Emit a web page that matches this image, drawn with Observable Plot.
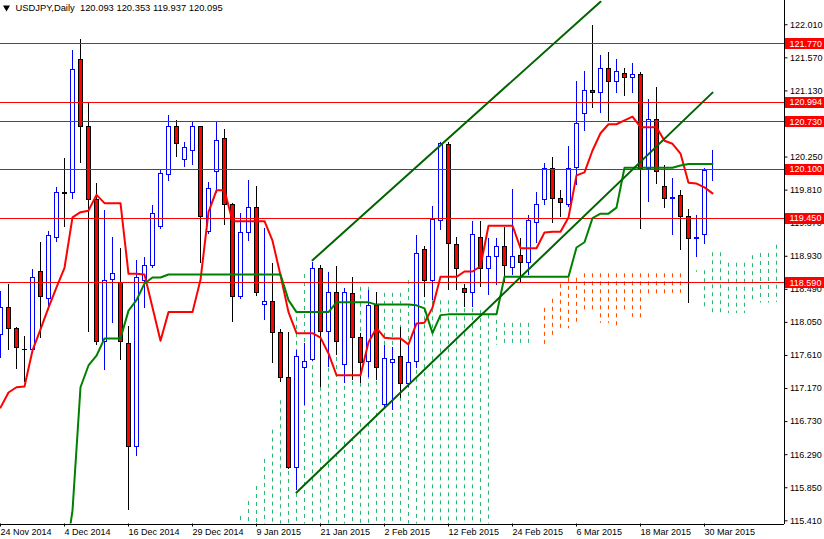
<!DOCTYPE html>
<html><head><meta charset="utf-8">
<script src="https://cdn.jsdelivr.net/npm/d3@7"></script>
<script src="https://cdn.jsdelivr.net/npm/@observablehq/plot@0.6"></script>
<style>html,body{margin:0;padding:0;background:#fff;overflow:hidden}</style>
</head><body><div id="chart"></div>
<script>
const symbolName = "USDJPY,Daily";
const dateLabels = ["24 Nov 2014","4 Dec 2014","16 Dec 2014","29 Dec 2014","9 Jan 2015","21 Jan 2015","2 Feb 2015","12 Feb 2015","24 Feb 2015","6 Mar 2015","18 Mar 2015","30 Mar 2015"];
const open = [117.89,118.26,117.97,117.70,117.69,118.73,118.38,119.19,119.78,119.78,
121.56,120.66,119.69,117.80,118.63,118.59,117.78,116.40,118.62,118.82,
119.33,120.03,120.66,120.23,120.34,120.66,119.26,120.06,120.50,119.63,
118.40,119.25,119.59,118.29,118.34,117.92,117.32,116.13,117.46,117.56,
118.77,117.94,118.46,117.49,118.44,117.86,117.53,118.28,116.97,117.52,
117.60,117.25,117.53,119.02,118.62,119.41,120.42,119.09,118.51,118.45,
119.19,118.78,118.93,119.06,118.79,118.95,118.85,119.39,119.69,120.11,
119.71,119.62,120.12,120.84,121.14,121.11,121.43,121.26,121.37,121.31,
121.35,120.11,120.75,119.87,119.70,119.74,119.46,119.17,119.22,120.093];
const high = [118.47,118.57,117.99,117.88,118.77,119.13,119.27,119.86,120.24,121.68,
121.83,120.99,119.91,119.55,119.19,119.05,118.01,118.89,118.93,119.62,
120.08,120.82,120.75,120.46,120.72,120.67,119.92,120.72,120.63,119.65,
119.51,119.95,119.87,119.31,118.85,117.97,117.93,117.69,117.78,118.86,
118.82,118.73,118.81,118.51,118.66,117.92,118.49,118.46,117.76,117.73,
117.99,117.78,119.22,119.07,119.61,120.46,120.46,119.19,118.57,119.41,
119.41,119.18,119.18,119.33,119.83,119.18,119.49,119.79,120.18,120.26,
119.82,120.40,121.27,121.40,122.01,121.61,121.65,121.56,121.44,121.51,
121.39,121.03,121.19,120.15,119.98,119.82,119.57,119.49,120.11,120.353];
const low = [117.58,117.69,117.44,117.26,117.66,117.85,118.22,119.13,119.33,119.70,
120.18,117.93,117.76,117.42,118.05,117.56,115.56,116.28,118.25,118.78,
119.30,119.94,120.26,120.12,120.15,118.85,119.23,119.78,119.35,118.06,
118.37,119.14,118.41,118.09,117.52,117.26,116.11,115.83,116.96,117.54,
117.20,117.46,117.62,117.25,117.29,117.25,117.33,117.29,116.93,116.89,
117.05,117.20,117.45,118.40,118.36,119.29,118.49,118.49,118.26,118.26,
118.53,118.42,118.55,118.58,118.69,118.58,118.69,119.11,119.62,119.38,
119.46,119.59,119.88,120.60,120.91,120.84,120.72,121.11,121.07,121.11,
119.30,119.66,119.90,119.58,119.22,119.02,118.32,118.93,119.10,119.937];
const close = [118.26,117.97,117.72,117.69,118.66,118.40,119.21,119.78,119.77,121.42,
120.66,119.69,117.80,118.62,118.71,117.80,116.40,118.65,118.82,119.50,
120.04,120.66,120.44,120.38,120.66,119.46,119.84,120.48,119.63,118.40,
119.25,119.59,118.46,118.33,117.92,117.32,116.13,117.60,117.53,118.77,
117.94,118.46,117.80,118.45,117.86,117.52,118.28,117.45,117.57,117.56,
117.25,117.52,118.97,118.62,119.42,120.44,119.10,118.77,118.46,119.23,
118.78,118.93,119.06,118.81,118.94,118.85,119.41,119.63,120.11,119.71,
119.65,120.11,120.70,121.14,121.11,121.43,121.26,121.39,121.32,121.35,
120.11,120.75,120.06,119.71,119.72,119.46,119.17,119.19,120.08,120.095];
const tenkan = [116.93,117.13,117.20,117.21,117.69,117.97,118.26,118.53,118.79,119.46,
119.53,119.55,119.76,119.65,119.65,119.65,118.71,118.71,118.70,118.26,
117.82,118.20,118.20,118.20,118.20,118.63,119.53,119.82,119.82,119.41,
119.41,119.41,119.41,119.41,119.15,118.69,118.20,117.92,117.92,117.92,
117.86,117.65,117.36,117.36,117.36,117.36,117.80,117.99,117.86,117.85,
117.85,117.77,118.05,118.06,118.26,118.67,118.67,118.67,118.74,118.74,
118.81,119.35,119.35,119.35,119.35,119.05,119.05,119.05,119.26,119.27,
119.27,119.46,120.02,120.06,120.35,120.58,120.70,120.70,120.75,120.80,
120.66,120.66,120.66,120.48,120.44,120.31,119.92,119.91,119.86,119.78];
const kijun = [null,null,null,null,null,null,null,null,114.83,115.56,
117.20,117.49,117.62,117.85,117.85,117.85,118.22,118.36,118.58,118.66,
118.66,118.70,118.70,118.70,118.70,118.70,118.70,118.70,118.70,118.70,
118.70,118.70,118.70,118.70,118.70,118.70,118.36,118.20,118.20,118.20,
118.20,118.20,118.33,118.33,118.33,118.33,118.33,118.30,118.30,118.30,
118.30,118.30,118.29,118.25,117.92,118.16,118.17,118.17,118.17,118.17,
118.17,118.17,118.17,118.67,118.67,118.67,118.67,118.67,118.67,118.67,
118.67,118.67,119.06,119.13,119.45,119.51,119.51,119.59,120.12,120.12,
120.12,120.12,120.12,120.12,120.12,120.15,120.17,120.17,120.17,120.17];
// Ichimoku cloud (shifted forward), 98 bars; 115.0 = below the visible chart
const spanA = [null,null,null,null,null,null,null,null,null,null,
null,null,null,null,null,null,null,null,null,null,
null,null,null,null,null,null,null,null,null,null,
115.48,115.68,115.88,116.24,116.63,117.02,117.89,118.13,118.70,118.55,
118.69,118.73,118.66,118.49,118.66,118.53,118.53,118.45,118.45,118.45,
118.45,118.62,118.49,118.35,118.35,118.35,118.35,118.35,118.35,118.35,
118.22,118.16,118.09,118.05,118.05,118.05,118.05,null,117.76,117.89,
117.96,117.98,118.06,118.18,118.18,118.05,118.05,118.02,118.18,118.13,
118.10,118.42,118.42,118.42,118.45,118.45,118.51,118.75,118.75,118.99,
118.99,118.85,118.85,118.85,118.95,118.98,118.98,119.09];
const spanB = [null,null,null,null,null,null,null,null,null,null,
null,null,null,null,null,null,null,null,null,null,
null,null,null,null,null,null,null,null,null,null,
115.0,115.0,115.0,115.0,115.0,115.0,115.0,115.0,115.0,115.0,
115.0,115.0,115.0,115.0,115.0,115.0,115.0,115.0,115.0,115.0,
115.0,115.0,115.0,115.0,115.0,115.0,115.0,115.0,115.0,115.0,
115.0,115.0,117.76,117.76,117.76,117.76,117.76,null,118.25,118.37,
118.57,118.65,118.65,118.71,118.71,118.71,118.71,118.71,118.71,118.71,
118.71,118.71,118.71,118.71,118.71,118.71,118.71,118.73,118.26,118.18,
118.18,118.18,118.18,118.18,118.35,118.32,118.32,118.33];
const levels = [121.770, 120.994, 120.730, 120.100, 119.450, 118.590];
const priceTicks = [122.010,121.570,121.130,120.690,120.250,119.810,119.370,118.930,118.490,118.050,117.610,117.170,116.730,116.290,115.850,115.410];
const upperTrend = [{bar: 39, price: 118.89}, {bar: 75, price: 122.33}];
const lowerTrend = [{bar: 37, price: 115.80}, {bar: 89, price: 121.12}];

const xDomain = [0, 97.9375];
const yDomain = [115.3809, 122.3461];

const candles = open.map((o, i) => ({i, o, h: high[i], l: low[i], c: close[i]}));
const bull = candles.filter(d => d.c > d.o);
const bear = candles.filter(d => d.c <= d.o);
const tenkanPts = tenkan.map((v, i) => ({i, v}));
const kijunPts = kijun.map((v, i) => ({i, v})).filter(d => d.v != null);
const cloud = spanA.map((a, i) => ({i, a, b: spanB[i]})).filter(d => d.a != null && d.b != null);
const cloudUp = cloud.filter(d => d.a >= d.b);
const cloudDown = cloud.filter(d => d.a < d.b);
const last = candles[candles.length - 1];
const headerText = symbolName + "\u00a0\u00a0" + [last.o, last.h, last.l, last.c].map(v => v.toFixed(3)).join(" ");
const xMax = xDomain[1];
const crisp = {shapeRendering: "crispEdges"};

const chart = Plot.plot({
  width: 824, height: 539,
  marginLeft: 0, marginTop: 0, marginRight: 40.5, marginBottom: 15.5,
  style: {fontFamily: "'Liberation Sans', Arial, sans-serif", fontSize: "9px", background: "#fff", color: "#000", overflow: "visible"},
  x: {domain: xDomain},
  y: {domain: yDomain},
  marks: [
    Plot.ruleX(cloudUp, {x: "i", y1: "a", y2: "b", stroke: "#2eb872", strokeWidth: 1, strokeDasharray: "4,4", clip: true}),
    Plot.ruleX(cloudDown, {x: "i", y1: "b", y2: "a", stroke: "#ff5000", strokeWidth: 1, strokeDasharray: "4,4", clip: true}),
    Plot.ruleX(bull, {x: "i", y1: "l", y2: "h", stroke: "#0000ff", strokeWidth: 1, ...crisp}),
    Plot.ruleX(bear, {x: "i", y1: "l", y2: "h", stroke: "#000", strokeWidth: 1, ...crisp}),
    Plot.rect(bull, {x1: d => d.i - 0.25, x2: d => d.i + 0.25, y1: "o", y2: "c", fill: "#fff", stroke: "#0000ff", strokeWidth: 1, ...crisp}),
    Plot.rect(bear, {x1: d => d.i - 0.25, x2: d => d.i + 0.25, y1: "o", y2: "c", fill: "#ff0000", stroke: "#000", strokeWidth: 1, ...crisp}),
    Plot.ruleY(levels, {y: d => d, stroke: "#ff0000", strokeWidth: 1, ...crisp}),
    Plot.line(tenkanPts, {x: "i", y: "v", stroke: "#ff0000", strokeWidth: 2, clip: true}),
    Plot.line(kijunPts, {x: "i", y: "v", stroke: "#008000", strokeWidth: 2, clip: true}),
    Plot.line(upperTrend, {x: "bar", y: "price", stroke: "#006400", strokeWidth: 2, clip: true}),
    Plot.line(lowerTrend, {x: "bar", y: "price", stroke: "#006400", strokeWidth: 2, clip: true}),
    Plot.ruleX([xDomain[1]], {stroke: "#000", strokeWidth: 1, ...crisp}),
    Plot.ruleY([yDomain[0]], {stroke: "#000", strokeWidth: 1, ...crisp}),
    Plot.axisY({anchor: "right", ticks: priceTicks, tickFormat: d => d.toFixed(3), tickSize: 3, tickPadding: 3, label: null, dy: -1}),
    Plot.axisX({anchor: "bottom", ticks: dateLabels.map((_, k) => k * 8), tickFormat: v => dateLabels[v / 8], tickSize: 3, tickPadding: 2, textAnchor: "start", label: null}),
    Plot.ruleY(levels, {y: d => d, x1: () => xMax + 0.19, x2: () => xMax + 5.1, stroke: "#ff0000", strokeWidth: 11, ...crisp}),
    Plot.text(levels, {y: d => d, x: () => xMax + 0.19, dx: 4, text: d => d.toFixed(3), textAnchor: "start", fill: "#fff"}),
    Plot.dot([0], {frameAnchor: "top-left", dx: 6, dy: 7, symbol: "triangle", rotate: 180, r: 2.6, fill: "#000", stroke: null}),
    Plot.text([headerText], {frameAnchor: "top-left", dx: 15, dy: 3.5, text: d => d, textAnchor: "start", lineAnchor: "top", fontSize: 9.4, fill: "#000"})
  ]
});
document.getElementById("chart").appendChild(chart);
</script>
</body></html>
